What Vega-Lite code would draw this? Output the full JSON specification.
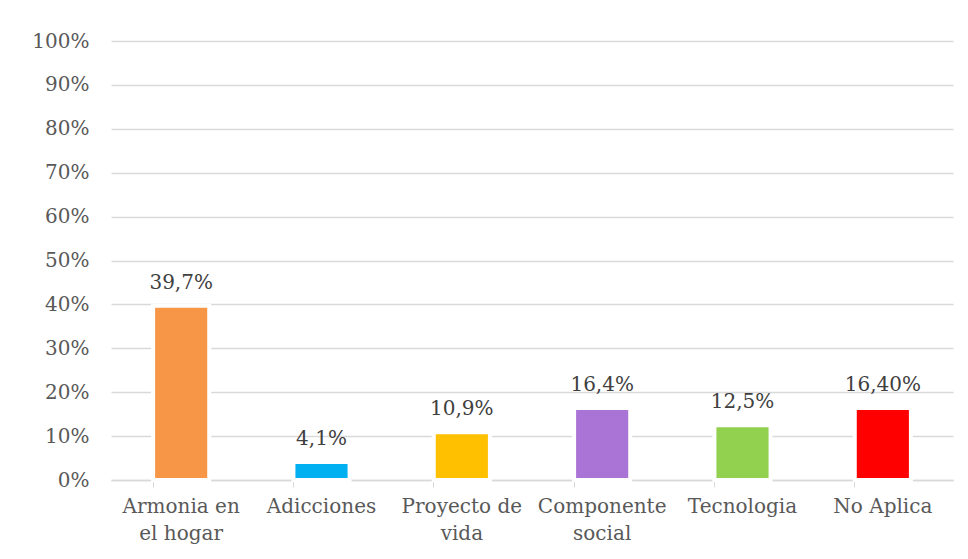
{
  "$schema": "https://vega.github.io/schema/vega-lite/v6.json",
  "autosize": "none",
  "width": 842,
  "height": 439,
  "padding": {"left": 111, "top": 41, "right": 15, "bottom": 79},
  "background": "white",
  "config": {
    "view": {"stroke": null},
    "font": "DejaVu Serif"
  },
  "data": {
    "values": [
      {"cat": "Armonia en|el hogar", "value": 39.7, "label": "39,7%", "color": "#F79646"},
      {"cat": "Adicciones", "value": 4.1, "label": "4,1%", "color": "#00B0F0"},
      {"cat": "Proyecto de|vida", "value": 10.9, "label": "10,9%", "color": "#FFC000"},
      {"cat": "Componente|social", "value": 16.4, "label": "16,4%", "color": "#A974D6"},
      {"cat": "Tecnologia", "value": 12.5, "label": "12,5%", "color": "#92D050"},
      {"cat": "No Aplica", "value": 16.4, "label": "16,40%", "color": "#FF0000"}
    ]
  },
  "encoding": {
    "x": {
      "field": "cat",
      "type": "nominal",
      "sort": null,
      "scale": {"paddingInner": 0.6, "paddingOuter": 0.3},
      "axis": {
        "title": null,
        "labelAngle": 0,
        "labelExpr": "split(datum.label, '|')",
        "labelFont": "DejaVu Serif",
        "labelFontSize": 20,
        "labelColor": "#595959",
        "labelLineHeight": 27,
        "labelPadding": 9,
        "bandPosition": 0,
        "tickColor": "#D9D9D9",
        "tickSize": 7,
        "domainColor": "#D9D9D9",
        "domainWidth": 1.5,
        "labelBaseline": "top"
      }
    },
    "y": {
      "field": "value",
      "type": "quantitative",
      "scale": {"domain": [0, 100]},
      "axis": {
        "title": null,
        "values": [0, 10, 20, 30, 40, 50, 60, 70, 80, 90, 100],
        "labelExpr": "datum.value + '%'",
        "labelFont": "DejaVu Serif",
        "labelFontSize": 20,
        "labelColor": "#595959",
        "labelPadding": 22,
        "ticks": false,
        "domain": false,
        "gridColor": "#D9D9D9",
        "gridWidth": 1.5
      }
    }
  },
  "layer": [
    {
      "mark": {"type": "bar", "stroke": "white", "strokeWidth": 4},
      "encoding": {
        "color": {"field": "color", "type": "nominal", "scale": null, "legend": null}
      }
    },
    {
      "mark": {"type": "text", "baseline": "alphabetic", "dy": -17, "fontSize": 20, "font": "DejaVu Serif", "color": "#404040"},
      "encoding": {
        "text": {"field": "label"}
      }
    }
  ]
}
